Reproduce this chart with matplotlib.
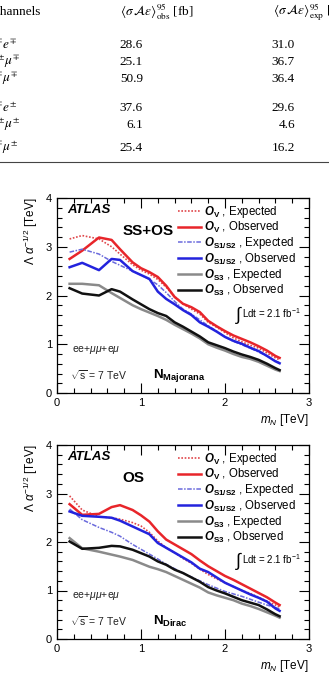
import numpy as np
import matplotlib
matplotlib.use("Agg")
import matplotlib.pyplot as plt
from matplotlib.ticker import MultipleLocator

plt.rcParams['font.family'] = ['Liberation Sans', 'DejaVu Sans']
plt.rcParams['mathtext.fontset'] = 'custom'
plt.rcParams['mathtext.rm'] = 'Liberation Sans'
plt.rcParams['mathtext.it'] = 'Liberation Sans:italic'
plt.rcParams['mathtext.bf'] = 'Liberation Sans:bold'
plt.rcParams['mathtext.bfit'] = 'Liberation Sans:bold:italic'

# table values
channels = [r"$e^{\mp}e^{\mp}$", r"$\mu^{\pm}\mu^{\mp}$", r"$e^{\mp}\mu^{\mp}$",
            r"$e^{\mp}e^{\pm}$", r"$\mu^{\pm}\mu^{\pm}$", r"$e^{\mp}\mu^{\pm}$"]
obs_xs = ["28.6", "25.1", "50.9", "37.6", "6.1", "25.4"]
exp_xs = ["31.0", "36.7", "36.4", "29.6", "4.6", "16.2"]

# limit curves
m_N = [0.15, 0.3, 0.5, 0.65, 0.75, 0.9, 1.0, 1.1, 1.2, 1.3, 1.4, 1.5,
       1.6, 1.7, 1.8, 1.9, 2.0, 2.1, 2.2, 2.3, 2.4, 2.5, 2.6, 2.65]

ssos_v_exp = [3.16, 3.23, 3.16, 3.0, 2.85, 2.63, 2.52, 2.44, 2.33, 2.17, 1.98, 1.83,
              1.72, 1.62, 1.45, 1.35, 1.24, 1.13, 1.05, 0.98, 0.92, 0.82, 0.72, 0.68]
ssos_v_obs = [2.75, 2.92, 3.19, 3.14, 2.95, 2.68, 2.56, 2.48, 2.38, 2.20, 1.97, 1.83,
              1.76, 1.66, 1.48, 1.37, 1.27, 1.18, 1.11, 1.04, 0.96, 0.87, 0.76, 0.72]
ssos_s12_exp = [2.89, 2.95, 2.85, 2.70, 2.62, 2.50, 2.42, 2.33, 2.22, 2.06, 1.88, 1.72,
                1.62, 1.50, 1.38, 1.27, 1.15, 1.06, 0.99, 0.92, 0.84, 0.76, 0.66, 0.62]
ssos_s12_obs = [2.58, 2.67, 2.52, 2.75, 2.73, 2.50, 2.42, 2.34, 2.08, 1.93, 1.82, 1.70,
                1.60, 1.45, 1.36, 1.26, 1.15, 1.07, 1.01, 0.93, 0.86, 0.76, 0.65, 0.61]
ssos_s3_exp = [2.24, 2.24, 2.21, 2.05, 1.95, 1.80, 1.72, 1.65, 1.58, 1.50, 1.40, 1.31,
               1.22, 1.12, 1.00, 0.93, 0.87, 0.80, 0.74, 0.70, 0.64, 0.56, 0.48, 0.45]
ssos_s3_obs = [2.15, 2.04, 2.00, 2.13, 2.08, 1.92, 1.82, 1.72, 1.64, 1.58, 1.45, 1.36,
               1.26, 1.16, 1.04, 0.98, 0.92, 0.85, 0.79, 0.74, 0.68, 0.60, 0.51, 0.47]

os_v_exp = [2.95, 2.66, 2.52, 2.50, 2.47, 2.40, 2.33, 2.20, 2.02, 1.88, 1.78, 1.66,
            1.56, 1.44, 1.33, 1.24, 1.16, 1.08, 1.00, 0.94, 0.86, 0.78, 0.70, 0.66]
os_v_obs = [2.78, 2.56, 2.58, 2.72, 2.76, 2.66, 2.55, 2.42, 2.22, 2.05, 1.95, 1.85,
            1.75, 1.62, 1.50, 1.40, 1.30, 1.22, 1.13, 1.04, 0.95, 0.86, 0.75, 0.70]
os_s12_exp = [2.68, 2.46, 2.30, 2.20, 2.12, 1.95, 1.85, 1.75, 1.65, 1.54, 1.45, 1.36,
              1.28, 1.20, 1.12, 1.05, 0.98, 0.93, 0.88, 0.82, 0.76, 0.70, 0.65, 0.62]
os_s12_obs = [2.63, 2.54, 2.52, 2.50, 2.44, 2.32, 2.24, 2.16, 1.98, 1.88, 1.78, 1.68,
              1.58, 1.45, 1.38, 1.27, 1.16, 1.08, 1.00, 0.92, 0.85, 0.77, 0.63, 0.58]
os_s3_exp = [2.08, 1.87, 1.80, 1.74, 1.70, 1.63, 1.56, 1.49, 1.44, 1.38, 1.30, 1.22,
             1.14, 1.06, 0.96, 0.90, 0.85, 0.80, 0.73, 0.68, 0.62, 0.55, 0.48, 0.44]
os_s3_obs = [2.01, 1.86, 1.88, 1.92, 1.91, 1.84, 1.77, 1.70, 1.60, 1.53, 1.43, 1.36,
             1.27, 1.18, 1.07, 1.00, 0.94, 0.87, 0.80, 0.75, 0.70, 0.61, 0.51, 0.47]

leg_labels = [r"$\mathbfit{O}_{\mathbf{V}}$ , Expected", r"$\mathbfit{O}_{\mathbf{V}}$ , Observed",
              r"$\mathbfit{O}_{\mathbf{S1/S2}}$ , Expected", r"$\mathbfit{O}_{\mathbf{S1/S2}}$ , Observed",
              r"$\mathbfit{O}_{\mathbf{S3}}$ , Expected", r"$\mathbfit{O}_{\mathbf{S3}}$ , Observed"]
styles = [dict(color='#e0474b', ls=(0, (1, 1)), lw=1.2),
          dict(color='#e8252a', ls='-', lw=1.8),
          dict(color='#6a6adc', ls=(0, (3, 1, 1, 1)), lw=1.1),
          dict(color='#2323dd', ls='-', lw=1.8),
          dict(color='#8a8a8a', ls='-', lw=1.8),
          dict(color='#111111', ls='-', lw=1.8)]

W, H = 329, 675
fig = plt.figure(figsize=(W / 100, H / 100), dpi=100)


def fx(x):
    return x / W


def fy(y):
    return 1 - y / H


# ---- table ----
tfont = dict(family='Liberation Serif', math_fontfamily='stix', fontsize=9.5)
fig.text(fx(-9), fy(12), "Channels", va='center', ha='left', **tfont)
fig.text(fx(120), fy(12), r"$\langle\sigma\,\mathcal{A}\epsilon\rangle^{95}_{\mathrm{obs}}$ [fb]",
         va='center', ha='left', **tfont)
fig.text(fx(273), fy(12), r"$\langle\sigma\,\mathcal{A}\epsilon\rangle^{95}_{\mathrm{exp}}$ [fb]",
         va='center', ha='left', **tfont)
row_y = [45, 62, 79, 108, 125, 148]
for ch, o, e, ry in zip(channels, obs_xs, exp_xs, row_y):
    fig.text(fx(-11), fy(ry), ch, va='center', ha='left', **tfont)
    fig.text(fx(143), fy(ry), o, va='center', ha='right', **tfont)
    fig.text(fx(295), fy(ry), e, va='center', ha='right', **tfont)
fig.add_artist(plt.Line2D([0, 1], [fy(162), fy(162)], color='#444444', lw=0.8))


def make_panel(top, bottom, curves, tag, nsub):
    ax = fig.add_axes([fx(57), fy(bottom), fx(309) - fx(57), fy(top) - fy(bottom)])
    for vals, st, lab in zip(curves, styles, leg_labels):
        ax.plot(m_N, vals, label=lab, **st)
    ax.set_xlim(0, 3)
    ax.set_ylim(0, 4)
    ax.xaxis.set_major_locator(MultipleLocator(1))
    ax.xaxis.set_minor_locator(MultipleLocator(0.2))
    ax.yaxis.set_major_locator(MultipleLocator(1))
    ax.yaxis.set_minor_locator(MultipleLocator(0.2))
    ax.tick_params(which='both', direction='in', top=True, right=True, labelsize=8, width=0.8)
    ax.tick_params(which='major', length=7)
    ax.tick_params(which='minor', length=3.5)
    for s in ax.spines.values():
        s.set_linewidth(0.9)
    ax.set_ylabel(r"$\Lambda\ \alpha^{-1/2}$ [TeV]", loc='top', fontsize=8.5, labelpad=4)
    ax.set_xlabel(r"$m_{N}$ [TeV]", loc='right', fontsize=8.5, labelpad=3)
    ax.text(0.04, 0.94, "ATLAS", transform=ax.transAxes, fontsize=9.5,
            fontweight='bold', fontstyle='italic', va='center')
    ax.text(tag[1], 0.83, tag[0], transform=ax.transAxes, fontsize=11,
            fontweight='bold', va='center')
    ax.legend(loc='upper right', bbox_to_anchor=(0.975, 1.0), frameon=False,
              fontsize=8.3, handlelength=2.0, handletextpad=0.3,
              labelspacing=0.0, borderaxespad=0.15)
    ax.text(0.705, 0.40, r"$\int$", transform=ax.transAxes, fontsize=13, va='center')
    ax.text(0.735, 0.41, r"Ldt = 2.1 fb$^{-1}$", transform=ax.transAxes,
            fontsize=7, va='center')
    ax.text(0.06, 0.22, r"ee+$\mu\mu$+e$\mu$", transform=ax.transAxes,
            fontsize=7.5, va='center', color='#222222')
    ax.text(0.05, 0.09, r"$\sqrt{\mathrm{s}}$ = 7 TeV", transform=ax.transAxes,
            fontsize=7.5, va='center', color='#222222')
    ax.text(0.38, 0.09, r"$\mathbf{N}_{\mathbf{" + nsub + "}}$", transform=ax.transAxes,
            fontsize=9.5, va='center')
    return ax


make_panel(198, 393, [ssos_v_exp, ssos_v_obs, ssos_s12_exp, ssos_s12_obs, ssos_s3_exp, ssos_s3_obs],
           ("SS+OS", 0.26), "Majorana")
make_panel(445, 639, [os_v_exp, os_v_obs, os_s12_exp, os_s12_obs, os_s3_exp, os_s3_obs],
           ("OS", 0.26), "Dirac")

fig.savefig("out.png", dpi=100)
